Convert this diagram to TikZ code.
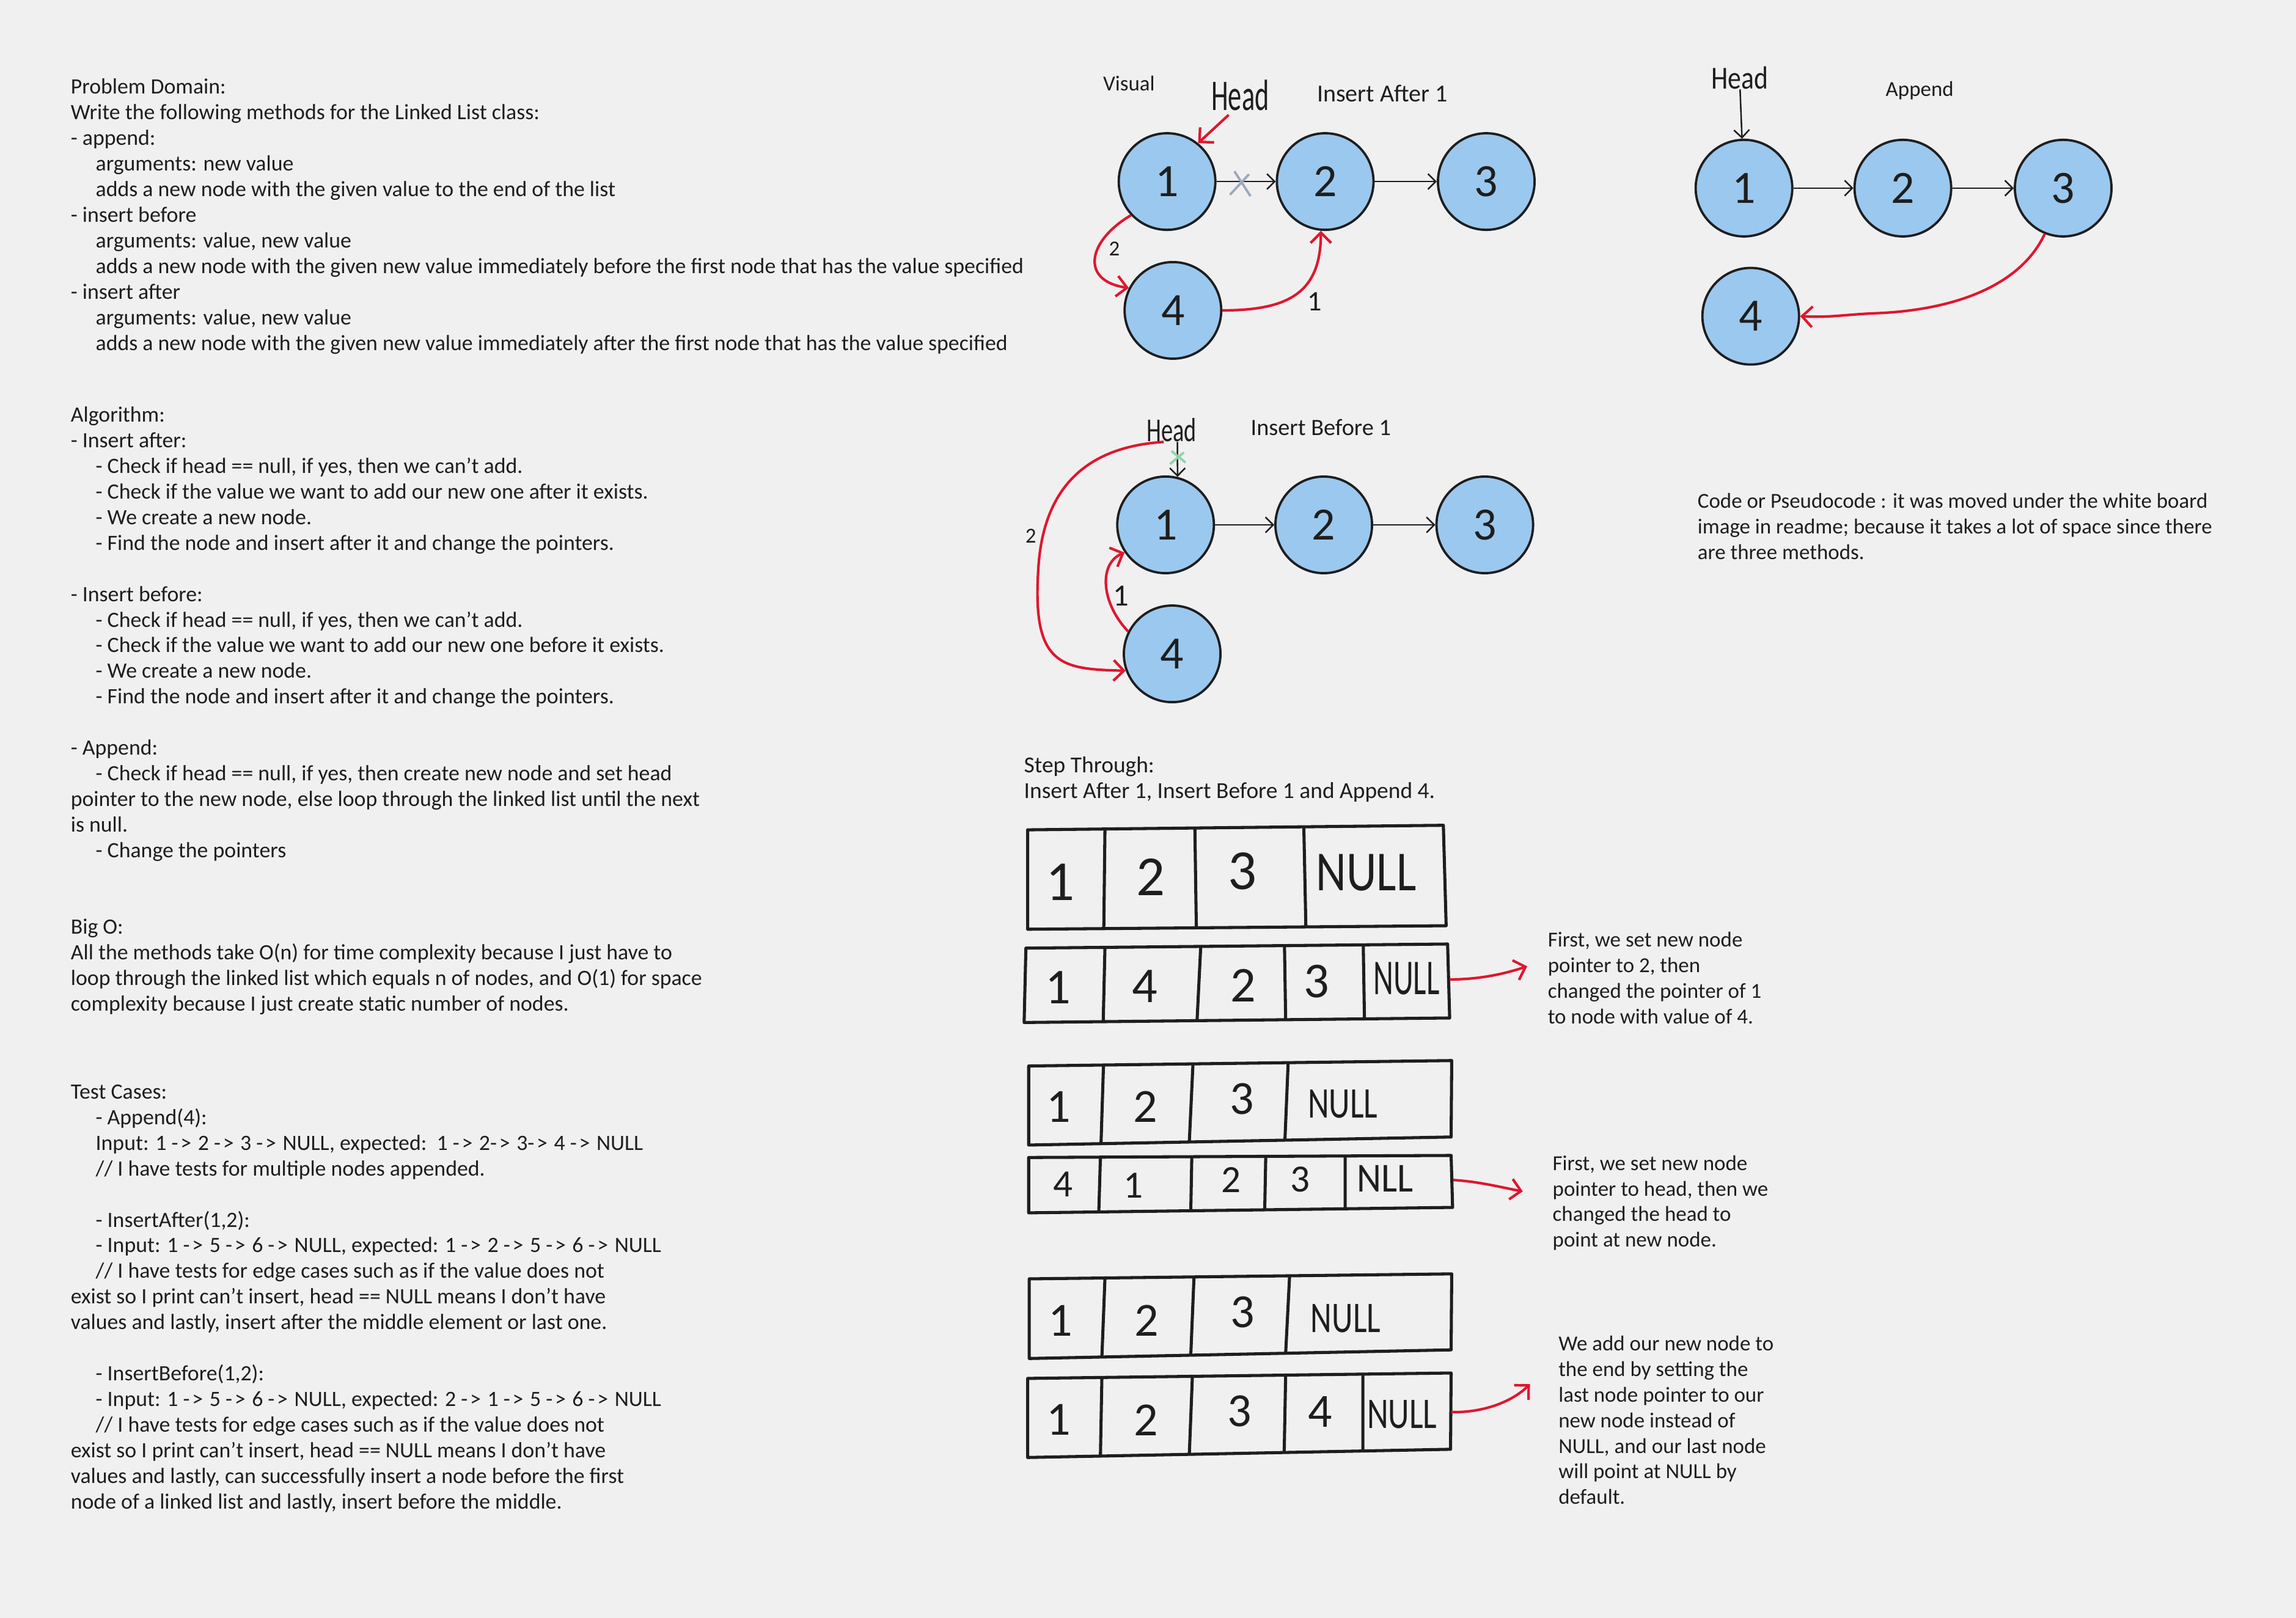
\documentclass[tikz,border=0pt]{standalone}
\usepackage{graphicx}
\usepackage{fontspec}
\setmainfont{Carlito}
\usetikzlibrary{arrows.meta}

\definecolor{boardbg}{HTML}{F0F0F0}
\definecolor{ink}{HTML}{1E1E1E}
\definecolor{nodeblue}{HTML}{9BC8EE}
\definecolor{pointred}{HTML}{E0162E}
\definecolor{crossgray}{HTML}{9AA8BA}
\definecolor{crossgreen}{HTML}{8ED3A6}

\newcommand{\ind}{\hspace*{9.7pt}}
\newcommand{\goesto}{-\hspace{0.9pt}>\hspace{0.6pt}}

\tikzset{
  listnode/.style={circle, draw=ink, fill=nodeblue, line width=0.9pt, minimum size=1.32cm, inner sep=0pt, text=ink, font=\fontsize{18}{18}\selectfont},
  ptr/.style={draw=ink, line width=0.6pt, -{Straight Barb[length=3pt,width=6pt]}},
  redptr/.style={draw=pointred, line width=1pt, -{Straight Barb[length=4pt,width=8pt]}},
  tablebox/.style={draw=ink, line width=1.2pt, line join=round},
  textblock/.style={anchor=north west, align=left, inner sep=0pt, text=ink, font=\fontsize{8.3}{9.96}\selectfont},
  leftblock/.style={textblock, font=\fontsize{8.5}{9.96}\selectfont},
  sketchlabel/.style={inner sep=0pt, text=ink, font=\fontsize{8.3}{9.96}\selectfont},
  headtag/.style={inner sep=0pt, text=ink},
  cellval/.style={inner sep=0pt, text=ink}
}

\begin{document}
\begin{tikzpicture}[x=0.02cm, y=0.02cm]
  \useasboundingbox (0,0) rectangle (1568,-1105);
  \fill[boardbg] (0,0) rectangle (1568,-1105);

  \node[leftblock] (problem) at (48,-53.5) {Problem Domain:\\
    Write the following methods for the Linked List class:\\
    - append:\\
    \ind arguments: new value\\
    \ind adds a new node with the given value to the end of the list\\
    - insert before\\
    \ind arguments: value, new value\\
    \ind adds a new node with the given new value immediately before the first node that has the value specified\\
    - insert after\\
    \ind arguments: value, new value\\
    \ind adds a new node with the given new value immediately after the first node that has the value specified};

  \node[leftblock] (algorithm) at (48,-277.5) {Algorithm:\\
    - Insert after:\\
    \ind - Check if head == null, if yes, then we can't add.\\
    \ind - Check if the value we want to add our new one after it exists.\\
    \ind - We create a new node.\\
    \ind - Find the node and insert after it and change the pointers.\\[9.96pt]
    - Insert before:\\
    \ind - Check if head == null, if yes, then we can't add.\\
    \ind - Check if the value we want to add our new one before it exists.\\
    \ind - We create a new node.\\
    \ind - Find the node and insert after it and change the pointers.\\[9.96pt]
    - Append:\\
    \ind - Check if head == null, if yes, then create new node and set head\\
    pointer to the new node, else loop through the linked list until the next\\
    is null.\\
    \ind - Change the pointers};

  \node[leftblock] (bigo) at (48,-627.5) {Big O:\\
    All the methods take O(n) for time complexity because I just have to\\
    loop through the linked list which equals n of nodes, and O(1) for space\\
    complexity because I just create static number of nodes.};

  \node[leftblock] (tests) at (48,-740.5) {Test Cases:\\
    \ind - Append(4):\\
    \ind Input: 1 \goesto{} 2 \goesto{} 3 \goesto{} NULL, expected:\ \ 1 \goesto{} 2\goesto{} 3\goesto{} 4 \goesto{} NULL\\
    \ind // I have tests for multiple nodes appended.\\[9.96pt]
    \ind - InsertAfter(1,2):\\
    \ind - Input: 1 \goesto{} 5 \goesto{} 6 \goesto{} NULL, expected: 1 \goesto{} 2 \goesto{} 5 \goesto{} 6 \goesto{} NULL\\
    \ind // I have tests for edge cases such as if the value does not\\
    exist so I print can't insert, head == NULL means I don't have\\
    values and lastly, insert after the middle element or last one.\\[9.96pt]
    \ind - InsertBefore(1,2):\\
    \ind - Input: 1 \goesto{} 5 \goesto{} 6 \goesto{} NULL, expected: 2 \goesto{} 1 \goesto{} 5 \goesto{} 6 \goesto{} NULL\\
    \ind // I have tests for edge cases such as if the value does not\\
    exist so I print can't insert, head == NULL means I don't have\\
    values and lastly, can successfully insert a node before the first\\
    node of a linked list and lastly, insert before the middle.};

  \node[sketchlabel] (visual) at (771,-57) {Visual};
  \node[headtag, font=\fontsize{17}{17}\selectfont] (headA) at (847,-65) {\scalebox{0.62}[1]{Head}};
  \node[sketchlabel, font=\fontsize{9.5}{9.5}\selectfont] (titleA) at (944,-64) {Insert After 1};
  \node[listnode] (ia1) at (797,-124) {1};
  \node[listnode] (ia2) at (905,-124) {2};
  \node[listnode] (ia3) at (1015,-124) {3};
  \node[listnode] (ia4) at (801,-212) {4};
  \draw[ptr] (ia1) -- (ia2);
  \draw[ptr] (ia2) -- (ia3);
  \draw[crossgray, line width=0.9pt] (843,-117) -- (854,-134) (853,-119) -- (840,-133);
  \draw[redptr] ([xshift=-4.5pt,yshift=-1.5pt]headA.south) -- (ia1.51);
  \draw[redptr] (ia1.223) .. controls (742,-165) and (738,-192) .. (ia4.153);
  \node[sketchlabel] (stepA2) at (761,-170) {2};
  \draw[redptr] (ia4.east) .. controls (880,-212) and (902,-200) .. (ia2.265);
  \node[sketchlabel, font=\fontsize{11}{11}\selectfont] (stepA1) at (898,-206) {1};

  \node[headtag, font=\fontsize{12.5}{12.5}\selectfont] (headB) at (1188,-53) {\scalebox{0.83}[1]{Head}};
  \node[sketchlabel] (titleB) at (1311,-62) {Append};
  \node[listnode] (ap1) at (1191,-128.5) {1};
  \node[listnode] (ap2) at (1299.5,-128.5) {2};
  \node[listnode] (ap3) at (1409,-128.5) {3};
  \node[listnode] (ap4) at (1195.6,-216) {4};
  \draw[ptr] (headB) -- (ap1);
  \draw[ptr] (ap1) -- (ap2);
  \draw[ptr] (ap2) -- (ap3);
  \draw[redptr] (ap3.248) .. controls (1380,-195) and (1335,-212) .. (1280,-214)
    .. controls (1258,-215) and (1250,-217) .. (ap4.east);

  \node[headtag, font=\fontsize{13}{13}\selectfont] (headC) at (800,-293.5) {\scalebox{0.7}[1]{Head}};
  \node[sketchlabel, font=\fontsize{9.1}{9.1}\selectfont] (titleC) at (902,-292) {Insert Before 1};
  \node[listnode] (ib1) at (796,-358.5) {1};
  \node[listnode] (ib2) at (904,-358.5) {2};
  \node[listnode] (ib3) at (1014,-358.5) {3};
  \node[listnode] (ib4) at (800.5,-446.6) {4};
  \draw[ptr] ([xshift=2.3pt]headC.south) -- (ib1.76);
  \draw[ptr] (ib1) -- (ib2);
  \draw[ptr] (ib2) -- (ib3);
  \draw[crossgreen, line width=0.9pt] (800,-308) -- (809.7,-316) (808.5,-309) -- (799,-317);
  \draw[redptr] ([xshift=-3pt]headC.south) .. controls (745,-305) and (712,-330) .. (709,-390)
    .. controls (705,-455) and (725,-457) .. (ib4.200);
  \node[sketchlabel] (stepC2) at (704,-366) {2};
  \draw[redptr] (ib4.153) .. controls (752,-412) and (750,-385) .. (ib1.214);
  \node[sketchlabel, font=\fontsize{12}{12}\selectfont] (stepC1) at (765.5,-407) {1};

  \node[textblock] (pseudo) at (1159,-336.5) {Code or Pseudocode : it was moved under the white board\\
    image in readme; because it takes a lot of space since there\\
    are three methods.};

  \node[textblock, font=\fontsize{8.9}{9.96}\selectfont] (stepthrough) at (699,-516.5) {Step Through:\\
    Insert After 1, Insert Before 1 and Append 4.};

  \draw[tablebox] (701.8,-566.8) -- (985.7,-563.7) -- (987.6,-632.3) -- (701.8,-634.7) -- cycle;
  \draw[tablebox] (754.6,-566.2) -- (753.8,-634.3) (816,-565.6) -- (817,-633.7) (890.4,-564.7) -- (891.8,-633.1);
  \foreach \v/\x/\y [count=\i] in {1/724/602.5, 2/786/599, 3/848.5/595}
    \node[cellval, font=\fontsize{22}{22}\selectfont] (rowA-\i) at (\x,-\y) {\v};
  \node[cellval, font=\fontsize{22}{22}\selectfont] (rowA-4) at (933,-596) {\scalebox{0.83}[1]{NULL}};

  \draw[tablebox] (700.6,-647.6) -- (988.6,-644.8) -- (990,-695.3) -- (699.4,-698.4) -- cycle;
  \draw[tablebox] (754.6,-647.1) -- (753.4,-697.8) (820,-646.4) -- (817.5,-697.1) (877.2,-645.9) -- (878,-696.5) (931,-645.4) -- (931.8,-695.9);
  \foreach \v/\x/\y [count=\i] in {1/722.7/674.5, 4/782/673.6, 2/849/673, 3/899/670.5}
    \node[cellval, font=\fontsize{19.5}{19.5}\selectfont] (rowB-\i) at (\x,-\y) {\v};
  \node[cellval, font=\fontsize{19.5}{19.5}\selectfont] (rowB-5) at (960.5,-668.5) {\scalebox{0.62}[1]{NULL}};

  \draw[tablebox] (702.5,-728.1) -- (991.4,-724.4) -- (991,-776.6) -- (702.5,-782.1) -- cycle;
  \draw[tablebox] (753.6,-727.4) -- (751.9,-781.2) (814.7,-726.7) -- (812.2,-780) (879.7,-725.8) -- (877.5,-778.8);
  \foreach \v/\x/\y [count=\i] in {1/723/756, 2/782/756, 3/848/750.5}
    \node[cellval, font=\fontsize{18.5}{18.5}\selectfont] (rowC-\i) at (\x,-\y) {\v};
  \node[cellval, font=\fontsize{17}{17}\selectfont] (rowC-4) at (917,-754) {\scalebox{0.75}[1]{NULL}};

  \draw[tablebox] (702.5,-790.6) -- (991,-789.2) -- (992,-824.7) -- (702.5,-828.4) -- cycle;
  \draw[tablebox] (751.5,-790.4) -- (750.4,-827.8) (813.9,-790.1) -- (813.2,-827) (864.4,-789.8) -- (863.7,-826.3) (918.6,-789.5) -- (918.6,-825.6);
  \foreach \v/\x/\y [count=\i] in {4/726/808.8, 1/774/809.6, 2/840.7/806, 3/888/805.6}
    \node[cellval, font=\fontsize{15}{15}\selectfont] (rowD-\i) at (\x,-\y) {\v};
  \node[cellval, font=\fontsize{16}{16}\selectfont] (rowD-5) at (946,-805) {\scalebox{0.92}[1]{NLL}};

  \draw[tablebox] (702.9,-873.5) -- (991.4,-870.1) -- (991,-922) -- (702.9,-927.9) -- cycle;
  \draw[tablebox] (754.6,-872.9) -- (752.5,-926.9) (815.4,-872.2) -- (813.2,-925.7) (880.7,-871.4) -- (878,-924.3);
  \foreach \v/\x/\y [count=\i] in {1/724/902, 2/783/902, 3/848.7/896.4}
    \node[cellval, font=\fontsize{18.5}{18.5}\selectfont] (rowE-\i) at (\x,-\y) {\v};
  \node[cellval, font=\fontsize{17}{17}\selectfont] (rowE-4) at (919,-900.5) {\scalebox{0.75}[1]{NULL}};

  \draw[tablebox] (701.8,-941.5) -- (991,-937.8) -- (990.6,-989.9) -- (701.8,-995.5) -- cycle;
  \draw[tablebox] (752.5,-940.9) -- (751.5,-994.5) (814.3,-940.1) -- (812.2,-993.4) (878,-939.2) -- (877,-992.1) (930.7,-938.6) -- (930.7,-991.1);
  \foreach \v/\x/\y [count=\i] in {1/723/969.8, 2/782.5/970, 3/846.5/964, 4/901.5/964.3}
    \node[cellval, font=\fontsize{18.5}{18.5}\selectfont] (rowF-\i) at (\x,-\y) {\v};
  \node[cellval, font=\fontsize{17}{17}\selectfont] (rowF-5) at (957.5,-966) {\scalebox{0.75}[1]{NULL}};

  \node[textblock] (noteA) at (1056.7,-636.2) {First, we set new node\\
    pointer to 2, then\\
    changed the pointer of 1\\
    to node with value of 4.};
  \node[textblock] (noteB) at (1060,-788.8) {First, we set new node\\
    pointer to head, then we\\
    changed the head to\\
    point at new node.};
  \node[textblock] (noteC) at (1064,-912) {We add our new node to\\
    the end by setting the\\
    last node pointer to our\\
    new node instead of\\
    NULL, and our last node\\
    will point at NULL by\\
    default.};

  \coordinate (rowBend) at (990,-669);
  \coordinate (rowDend) at (992.5,-806);
  \coordinate (rowFend) at (991,-964.5);
  \draw[redptr] (rowBend) .. controls (1008,-669) and (1025,-666) .. ([xshift=-7.8pt,yshift=4.5pt]noteA.west);
  \draw[redptr] (rowDend) .. controls (1010,-807) and (1025,-811) .. ([xshift=-11.4pt,yshift=4.5pt]noteB.west);
  \draw[redptr] (rowFend) .. controls (1012,-965) and (1032,-958) .. ([xshift=-10.9pt,yshift=14pt]noteC.west);
\end{tikzpicture}
\end{document}
